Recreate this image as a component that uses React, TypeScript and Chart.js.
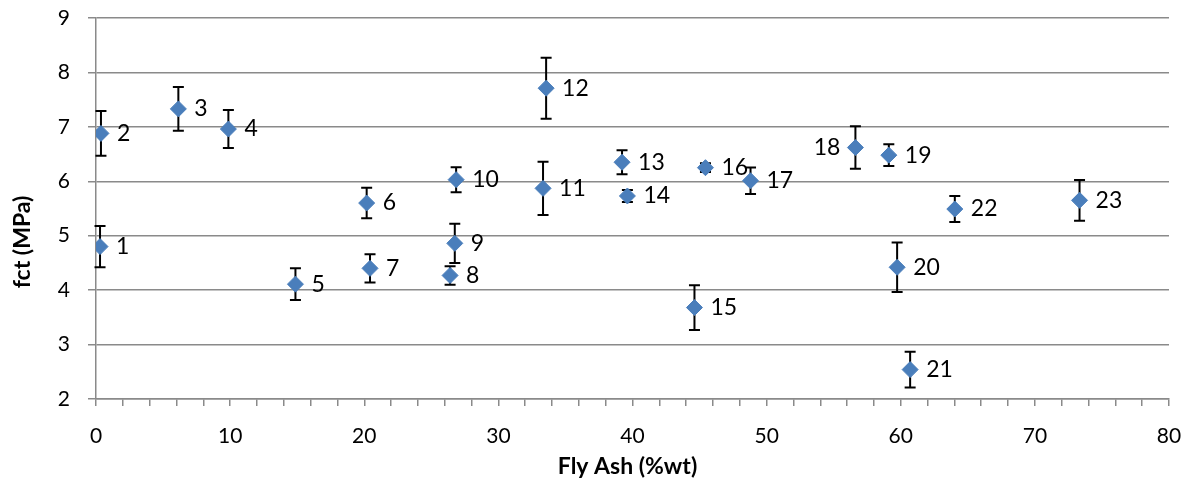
import React, { useEffect, useRef } from "react";
import { Chart, registerables } from "chart.js";

Chart.register(...registerables);

// Fly ash content (%wt) of each mix
const flyAsh = [0.3, 0.37, 6.14, 9.87, 14.87, 20.18, 20.43, 26.4, 26.75, 26.85, 33.33, 33.56, 39.22, 39.62, 44.62, 45.44, 48.8, 56.62, 59.11, 59.73, 60.7, 64.03, 73.33];
// Tensile strength fct (MPa)
const fct = [4.8, 6.88, 7.33, 6.96, 4.11, 5.6, 4.4, 4.27, 4.86, 6.03, 5.87, 7.71, 6.35, 5.73, 3.68, 6.25, 6.01, 6.62, 6.48, 4.42, 2.54, 5.49, 5.65];
// Standard deviation (MPa)
const fctErr = [0.38, 0.41, 0.4, 0.35, 0.29, 0.28, 0.26, 0.17, 0.36, 0.23, 0.49, 0.56, 0.22, 0.11, 0.41, 0.08, 0.245, 0.39, 0.2, 0.455, 0.33, 0.24, 0.375];
// Mix numbers shown beside each point
const mixIds = ["1", "2", "3", "4", "5", "6", "7", "8", "9", "10", "11", "12", "13", "14", "15", "16", "17", "18", "19", "20", "21", "22", "23"];
// Mixes whose number sits on the left of the point
const leftLabelled = ["18"];

const xTitle = "Fly Ash (%wt)";
const yTitle = "fct (MPa)";

const FONT = "Lato, 'Open Sans', sans-serif";
const GRID = "#8a8a8a";

// error bars go under the diamond markers
const errorBars = {
  id: "errorBars",
  beforeDatasetsDraw(chart: any) {
    const { ctx } = chart;
    const xs = chart.scales.x;
    const ys = chart.scales.y;
    ctx.save();
    ctx.strokeStyle = "#000";
    ctx.lineWidth = 2;
    flyAsh.forEach((xv, i) => {
      const px = xs.getPixelForValue(xv);
      const top = ys.getPixelForValue(fct[i] + fctErr[i]);
      const bot = ys.getPixelForValue(fct[i] - fctErr[i]);
      ctx.beginPath();
      ctx.moveTo(px, top);
      ctx.lineTo(px, bot);
      ctx.moveTo(px - 5.5, top);
      ctx.lineTo(px + 5.5, top);
      ctx.moveTo(px - 5.5, bot);
      ctx.lineTo(px + 5.5, bot);
      ctx.stroke();
    });
    ctx.restore();
  },
};

const pointLabels = {
  id: "pointLabels",
  afterDraw(chart: any) {
    const { ctx, chartArea, height } = chart;
    const xs = chart.scales.x;
    const ys = chart.scales.y;
    ctx.save();
    ctx.fillStyle = "#000";
    ctx.font = `23px ${FONT}`;
    ctx.textBaseline = "middle";
    flyAsh.forEach((xv, i) => {
      const px = xs.getPixelForValue(xv);
      const py = ys.getPixelForValue(fct[i]);
      if (leftLabelled.includes(mixIds[i])) {
        ctx.textAlign = "right";
        ctx.fillText(mixIds[i], px - 15, py);
      } else {
        ctx.textAlign = "left";
        ctx.fillText(mixIds[i], px + 16, py);
      }
    });

    // axis titles
    ctx.font = `bold 23px ${FONT}`;
    ctx.textAlign = "center";
    ctx.fillText(xTitle, (chartArea.left + chartArea.right) / 2 - 5, height - 17);
    ctx.translate(23, height / 2);
    ctx.rotate(-Math.PI / 2);
    ctx.fillText(yTitle, 0, 0);
    ctx.restore();
  },
};

export default function App() {
  const ref = useRef<HTMLCanvasElement>(null);

  useEffect(() => {
    if (!ref.current) return;
    const chart = new Chart(ref.current, {
      type: "scatter",
      data: {
        datasets: [
          {
            data: flyAsh.map((x, i) => ({ x, y: fct[i] })),
            pointStyle: "rectRot",
            pointRadius: 8,
            pointHoverRadius: 8,
            backgroundColor: "#4a7ebb",
            borderColor: "#4a7ebb",
            borderWidth: 1,
          },
        ],
      },
      options: {
        responsive: false,
        animation: false,
        events: [],
        layout: { padding: { top: 18, right: 20, left: 0, bottom: 0 } },
        plugins: {
          legend: { display: false },
          tooltip: { enabled: false },
        },
        scales: {
          x: {
            type: "linear",
            min: 0,
            max: 80,
            afterFit(scale: any) {
              scale.height = 85;
              scale.paddingLeft = 0;
              scale.paddingRight = 0;
            },
            border: { display: true, color: GRID, width: 1.5 },
            grid: {
              drawOnChartArea: false,
              drawTicks: true,
              tickLength: 7,
              color: GRID,
              lineWidth: 1.5,
            },
            ticks: {
              stepSize: 2,
              autoSkip: false,
              maxRotation: 0,
              padding: 18,
              color: "#000",
              font: { family: FONT, size: 21 },
              callback: (v: any) => (Number(v) % 10 === 0 ? String(v) : ""),
            },
          },
          y: {
            min: 2,
            max: 9,
            afterFit(scale: any) {
              scale.width = 96;
              scale.paddingTop = 0;
              scale.paddingBottom = 0;
            },
            border: { display: true, color: GRID, width: 1.5 },
            grid: {
              drawOnChartArea: true,
              drawTicks: true,
              tickLength: 8,
              color: GRID,
              lineWidth: 1.5,
            },
            ticks: {
              stepSize: 1,
              padding: 18,
              color: "#000",
              font: { family: FONT, size: 21 },
            },
          },
        },
      },
      plugins: [errorBars, pointLabels],
    });
    return () => chart.destroy();
  }, []);

  return (
    <div style={{ position: "fixed", left: 0, top: 0, width: 1189, height: 484, background: "#fff" }}>
      <canvas ref={ref} width={1189} height={484} />
    </div>
  );
}
